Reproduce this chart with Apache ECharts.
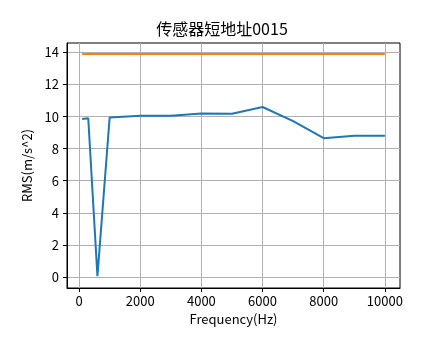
<!DOCTYPE html>
<html>
<head>
<meta charset="utf-8">
<script src="https://cdn.jsdelivr.net/npm/echarts@6/dist/echarts.min.js"></script>
<style>html,body{margin:0;padding:0;background:#fff}#c{width:444px;height:359px}</style>
</head>
<body>
<div id="c"></div>
<script>
var titleText = '传感器短地址0015';
var freq = [100, 300, 600, 1000, 2000, 3000, 4000, 5000, 6000, 7000, 8000, 9000, 10000];
var rms = [9.85, 9.9, 0.05, 9.95, 10.05, 10.05, 10.2, 10.18, 10.6, 9.72, 8.65, 8.8, 8.8];
var limitFreq = [100, 10000];
var limitVal = [13.9, 13.9];
var xTicks = [0, 2000, 4000, 6000, 8000, 10000];
var yTicks = [0, 2, 4, 6, 8, 10, 12, 14];

var FONT = '"Noto Sans CJK SC", sans-serif';
var chart = echarts.init(document.getElementById('c'), null, {renderer: 'canvas'});
var axisCommon = {
  axisLine: {show: true, onZero: false, lineStyle: {color: '#000', width: 1}},
  axisTick: {show: true, inside: false, length: 4, lineStyle: {color: '#000', width: 1}},
  splitLine: {show: true, lineStyle: {color: '#b0b0b0', width: 1}},
  nameTextStyle: {color: '#000', fontFamily: FONT, fontSize: 13}
};
function plain(v) { return String(v); }
chart.setOption({
  animation: false,
  backgroundColor: '#fff',
  title: {
    text: titleText, left: 'center', top: 16,
    textStyle: {fontFamily: FONT, fontSize: 16, fontWeight: 'normal', color: '#000'}
  },
  grid: {left: 67, right: 44, top: 43, bottom: 71, show: true, borderColor: '#000', borderWidth: 1, backgroundColor: 'transparent'},
  xAxis: Object.assign({}, axisCommon, {
    type: 'value', min: -395, max: 10495,
    name: 'Frequency(Hz)', nameLocation: 'middle', nameGap: 22,
    axisTick: Object.assign({}, axisCommon.axisTick, {customValues: xTicks}),
    axisLabel: {customValues: xTicks, formatter: plain, color: '#000', fontFamily: FONT, fontSize: 13, margin: 7}
  }),
  yAxis: Object.assign({}, axisCommon, {
    type: 'value', min: -0.69, max: 14.59,
    name: 'RMS(m/s^2)', nameLocation: 'middle', nameGap: 29,
    axisTick: Object.assign({}, axisCommon.axisTick, {customValues: yTicks}),
    axisLabel: {customValues: yTicks, formatter: plain, color: '#000', fontFamily: FONT, fontSize: 13, margin: 8}
  }),
  series: [
    {type: 'line', data: freq.map(function (f, i) { return [f, rms[i]]; }), showSymbol: false, symbol: 'none',
     lineStyle: {color: '#1f77b4', width: 2}, itemStyle: {color: '#1f77b4'}},
    {type: 'line', data: limitFreq.map(function (f, i) { return [f, limitVal[i]]; }), showSymbol: false, symbol: 'none',
     lineStyle: {color: '#ff7f0e', width: 2}, itemStyle: {color: '#ff7f0e'}}
  ]
});
</script>
</body>
</html>
